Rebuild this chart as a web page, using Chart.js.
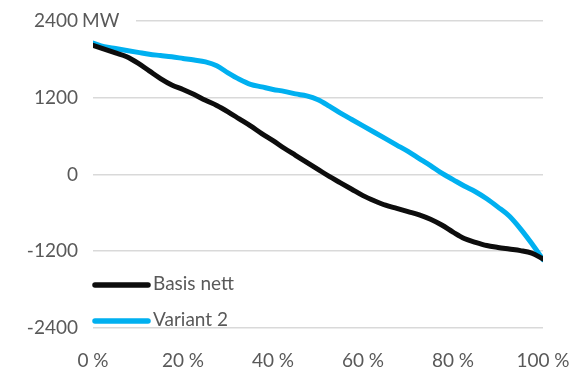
<!DOCTYPE html>
<html>
<head>
<meta charset="utf-8">
<script src="https://cdn.jsdelivr.net/npm/chart.js@4/dist/chart.umd.min.js"></script>
<style>
  html, body { margin: 0; padding: 0; background: #fff; }
  #wrap { width: 579px; height: 368px; }
</style>
</head>
<body>
<div id="wrap"><canvas id="c" width="579" height="368"></canvas></div>
<script>
// Share of hours (%), sorted duration curve
const shares = [0, 2.5, 5, 7.5, 10, 12.5, 15, 17.5, 20, 22.5, 25, 27.5, 30, 32.5, 35, 37.5, 40,
  42.5, 45, 47.5, 50, 52.5, 55, 57.5, 60, 62.5, 65, 67.5, 70, 72.5, 75, 77.5, 80, 82.5, 85,
  87.5, 90, 92.5, 95, 97.5, 100];

// Net exchange, MW
const basisNett = [2020, 1960, 1900, 1840, 1740, 1620, 1500, 1400, 1330, 1250, 1160, 1080, 980,
  870, 760, 640, 530, 410, 300, 190, 80, -30, -130, -230, -330, -410, -480, -530, -580, -630,
  -700, -790, -900, -1000, -1060, -1110, -1140, -1165, -1190, -1230, -1320];
const variant2 = [2055, 2000, 1970, 1940, 1910, 1880, 1860, 1840, 1815, 1790, 1760, 1700, 1590,
  1490, 1410, 1370, 1330, 1300, 1260, 1230, 1170, 1070, 960, 860, 760, 660, 560, 460, 360, 250,
  140, 20, -80, -180, -270, -380, -510, -650, -850, -1080, -1330];

const seriesNames = ['Basis nett', 'Variant 2'];
const yTicks = [-2400, -1200, 0, 1200, 2400];
const xTicks = [0, 20, 40, 60, 80, 100];
const unitLabel = 'MW';

const FONT = 'Lato';
const TEXT = '#595959';

const pts = (vals) => vals.map((v, i) => ({ x: shares[i], y: v }));

// Unit text next to the top tick, and a legend inside the plot
const extras = {
  id: 'extras',
  afterDraw(chart) {
    const ctx = chart.ctx;
    const ys = chart.scales.y;
    const area = chart.chartArea;
    const yTop = ys.getPixelForValue(yTicks[yTicks.length - 1]);
    ctx.save();
    ctx.fillStyle = '#fff';
    ctx.fillRect(area.left - 1, yTop - 3, 44, 6);
    ctx.font = '19px ' + FONT;
    ctx.fillStyle = TEXT;
    ctx.textAlign = 'left';
    ctx.textBaseline = 'middle';
    ctx.fillText(unitLabel, 82, yTop);

    const rows = [285, 321];
    chart.data.datasets.forEach((ds, i) => {
      const y = rows[i];
      ctx.strokeStyle = ds.borderColor;
      ctx.lineWidth = 5.5;
      ctx.lineCap = 'round';
      ctx.beginPath();
      ctx.moveTo(area.left + 2, y);
      ctx.lineTo(area.left + 55, y);
      ctx.stroke();
      ctx.fillStyle = TEXT;
      ctx.fillText(ds.label, area.left + 60, y - 1);
    });
    ctx.restore();
  }
};

new Chart(document.getElementById('c'), {
  type: 'line',
  data: {
    datasets: [
      { label: seriesNames[0], data: pts(basisNett), borderColor: '#0d0d0d', borderWidth: 5,
        pointRadius: 0, cubicInterpolationMode: 'monotone', borderCapStyle: 'round' },
      { label: seriesNames[1], data: pts(variant2), borderColor: '#00b0f0', borderWidth: 5,
        pointRadius: 0, cubicInterpolationMode: 'monotone', borderCapStyle: 'round' }
    ]
  },
  options: {
    responsive: false,
    animation: false,
    devicePixelRatio: 1,
    layout: { padding: { top: 21, right: 36, left: 0, bottom: 0 } },
    plugins: { legend: { display: false }, tooltip: { enabled: false } },
    scales: {
      x: {
        type: 'linear', min: 0, max: 100,
        afterBuildTicks(s) { s.ticks = xTicks.map(v => ({ value: v })); },
        afterFit(s) { s.height = 40; s.paddingLeft = 0; s.paddingRight = 0; },
        grid: { display: false },
        border: { display: false },
        ticks: { padding: 13, color: TEXT, font: { family: FONT, size: 19 },
          maxRotation: 0, callback: v => v + ' %' }
      },
      y: {
        min: -2400, max: 2400,
        afterBuildTicks(s) { s.ticks = yTicks.map(v => ({ value: v })); },
        afterFit(s) { s.width = 93; s.paddingTop = 0; s.paddingBottom = 0; },
        grid: { color: '#d9d9d9', lineWidth: 1.6, drawTicks: false },
        border: { display: false },
        ticks: { padding: 15, color: TEXT, font: { family: FONT, size: 19 },
          callback: v => String(v) }
      }
    }
  },
  plugins: [extras]
});
</script>
</body>
</html>
